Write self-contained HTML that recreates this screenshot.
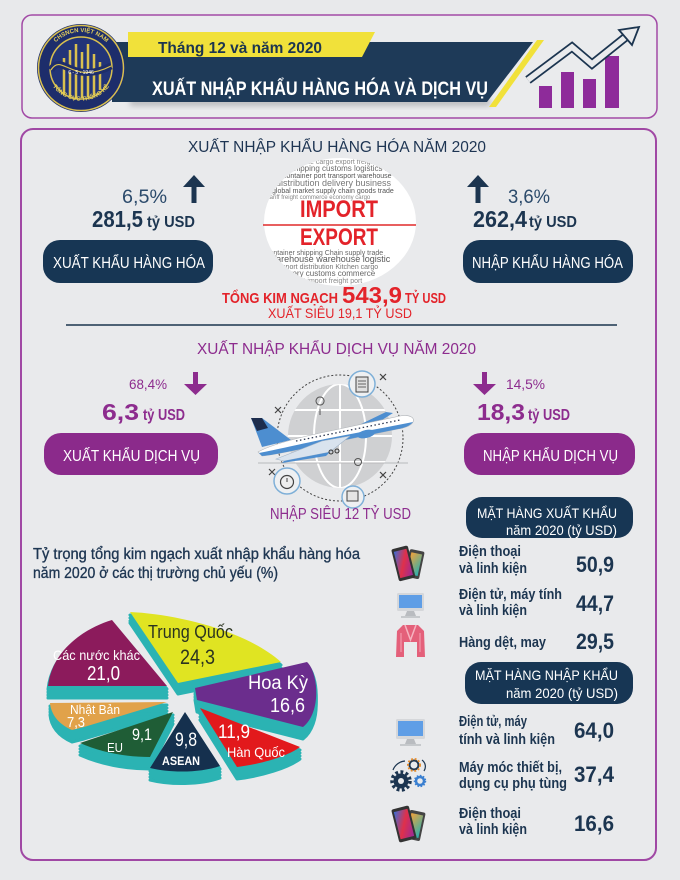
<!DOCTYPE html>
<html><head><meta charset="utf-8"><style>
html,body{margin:0;padding:0;background:#e8e9eb;}
svg{display:block;}
text{font-family:"Liberation Sans",sans-serif;}
</style></head><body>
<svg width="680" height="880" viewBox="0 0 680 880" xmlns="http://www.w3.org/2000/svg">
<defs>
 <clipPath id="circ"><ellipse cx="340" cy="222" rx="76" ry="64"/></clipPath>
 <clipPath id="globe"><circle cx="340" cy="436" r="52"/></clipPath>
 <filter id="blur" x="-20%" y="-50%" width="140%" height="200%"><feGaussianBlur stdDeviation="3"/></filter>
 <linearGradient id="scr1" x1="0" y1="0" x2="1" y2="1"><stop offset="0" stop-color="#3a6fd8"/><stop offset="0.5" stop-color="#e0304a"/><stop offset="1" stop-color="#9a2a9a"/></linearGradient>
 <linearGradient id="scr2" x1="0" y1="0" x2="1" y2="1"><stop offset="0" stop-color="#f3a23a"/><stop offset="1" stop-color="#2ab0b0"/></linearGradient>
 <path id="wtq" d="M178,683 L130,612 C175,614 245,630 281,662 Z"/>
 <path id="wck" d="M167,686 L112,620 C85,628 52,650 48,686 Z"/>
 <path id="whk" d="M195,688 L307,662 C318,672 322,712 303,727 L197,700 Z"/>
 <path id="wnb" d="M167,702 L50,703 C51,714 58,724 72,730 L84,727 Z"/>
 <path id="whq" d="M200,708 L300,747 C288,756 262,764 237,767 Z"/>
 <path id="weu" d="M173,712 L80,743 C100,752 125,757 150,757 Z"/>
 <path id="was" d="M185,712 L220,766 C200,773 170,773 150,768 Z"/>
</defs>
<rect width="680" height="880" fill="#e8e9eb"/>

<!-- HEADER -->
<rect x="22" y="15" width="635" height="103" rx="10" fill="#eaebed" stroke="#a24aa6" stroke-width="1.5"/>
<rect x="130" y="98" width="360" height="8" fill="#9a9ca0" opacity="0.6" filter="url(#blur)"/>
<polygon points="112,42 533,42 487,102 112,102" fill="#1e3a58"/>
<polygon points="537,40 544,40 496,107 489,107" fill="#f1e13a"/>
<polygon points="128,32 375,32 362,57 128,57" fill="#f1e13a"/>
<text x="158" y="53" font-size="16" font-weight="bold" fill="#1c3550" textLength="164" lengthAdjust="spacingAndGlyphs">Tháng 12 và năm 2020</text>
<text x="152" y="95" font-size="19" font-weight="bold" fill="#ffffff" textLength="336" lengthAdjust="spacingAndGlyphs">XUẤT NHẬP KHẨU HÀNG HÓA VÀ DỊCH VỤ</text>

<!-- logo -->
<g>
 <circle cx="81" cy="68" r="44" fill="#1d2d6b"/>
 <circle cx="81" cy="68" r="42.5" fill="none" stroke="#d9c04f" stroke-width="1.5"/>
 <circle cx="81" cy="68" r="31" fill="#223478" stroke="#d9c04f" stroke-width="1.5"/>
 <g stroke="#d9c04f" stroke-width="2.5">
  <line x1="64" y1="58" x2="64" y2="95"/>
  <line x1="70" y1="50" x2="70" y2="97"/>
  <line x1="76" y1="44" x2="76" y2="98"/>
  <line x1="82" y1="52" x2="82" y2="98"/>
  <line x1="88" y1="44" x2="88" y2="97"/>
  <line x1="94" y1="54" x2="94" y2="95"/>
  <line x1="100" y1="62" x2="100" y2="90"/>
 </g>
 <path d="M51,70 C62,52 72,86 111,66" stroke="#1d2d6b" stroke-width="7" fill="none"/>
 <path d="M51,70 C62,52 72,86 111,66" stroke="#d9c04f" stroke-width="1.2" fill="none"/>
 <text x="81" y="74" font-size="5" fill="#ffffff" text-anchor="middle">6 - 5 - 1946</text>
 <path id="lt" d="M45,68 A36,36 0 0 1 117,68" fill="none"/>
 <path id="lb" d="M47,74 A35,35 0 0 0 115,74" fill="none"/>
 <text font-size="6" fill="#e6cf5a" font-weight="bold"><textPath href="#lt" startOffset="50%" text-anchor="middle">CHSNCN VIỆT NAM</textPath></text>
 <text font-size="6" fill="#e6cf5a" font-weight="bold"><textPath href="#lb" startOffset="50%" text-anchor="middle">TỔNG CỤC THỐNG KÊ</textPath></text>
</g>

<!-- chart icon -->
<g fill="#8e2b9a">
 <rect x="539" y="86" width="13" height="22"/>
 <rect x="561" y="72" width="13" height="36"/>
 <rect x="583" y="79" width="13" height="29"/>
 <rect x="605" y="56" width="14" height="52"/>
</g>
<polyline points="528,80 572,47 592,64 627,36" fill="none" stroke="#1c3550" stroke-width="9" stroke-linejoin="miter"/>
<polyline points="528,80 572,47 592,64 627,36" fill="none" stroke="#eaebed" stroke-width="5.5" stroke-linejoin="miter"/>
<polygon points="639,27 632,45 619,30" fill="#eaebed" stroke="#1c3550" stroke-width="1.8"/>

<!-- MAIN BOX -->
<rect x="21" y="129" width="635" height="731" rx="12" fill="#e9eaec" stroke="#a048a4" stroke-width="2"/>

<!-- goods -->
<text x="188" y="152" font-size="16" fill="#1e3553" textLength="298" lengthAdjust="spacingAndGlyphs">XUẤT NHẬP KHẨU HÀNG HÓA NĂM 2020</text>
<text x="122" y="203" font-size="19" fill="#2b4a6b" textLength="45" lengthAdjust="spacingAndGlyphs">6,5%</text>
<g fill="#1c3550">
 <polygon points="183,187 205,187 194,175"/>
 <rect x="191.5" y="185" width="5" height="18"/>
 <polygon points="467,187 489,187 478,175"/>
 <rect x="475.5" y="185" width="5" height="18"/>
</g>
<text x="92" y="227" font-size="23" font-weight="bold" fill="#1c3550" textLength="51" lengthAdjust="spacingAndGlyphs">281,5</text>
<text x="147" y="227" font-size="16" font-weight="bold" fill="#1c3550" textLength="48" lengthAdjust="spacingAndGlyphs">tỷ USD</text>
<rect x="43" y="240" width="170" height="43" rx="17" fill="#173654"/>
<text x="53" y="268" font-size="16" fill="#ffffff" textLength="152" lengthAdjust="spacingAndGlyphs">XUẤT KHẨU HÀNG HÓA</text>

<text x="508" y="203" font-size="19" fill="#2b4a6b" textLength="42" lengthAdjust="spacingAndGlyphs">3,6%</text>
<text x="473" y="227" font-size="23" font-weight="bold" fill="#1c3550" textLength="54" lengthAdjust="spacingAndGlyphs">262,4</text>
<text x="529" y="227" font-size="16" font-weight="bold" fill="#1c3550" textLength="48" lengthAdjust="spacingAndGlyphs">tỷ USD</text>
<rect x="463" y="240" width="170" height="43" rx="17" fill="#173654"/>
<text x="472" y="268" font-size="16" fill="#ffffff" textLength="151" lengthAdjust="spacingAndGlyphs">NHẬP KHẨU HÀNG HÓA</text>

<!-- import export circle -->
<ellipse cx="340" cy="222" rx="76" ry="64" fill="#ffffff"/>
<g clip-path="url(#circ)" font-family="Liberation Sans, sans-serif">
 <text x="298" y="164" font-size="7" fill="#888">trade cargo export freight logistics</text>
 <text x="290" y="171" font-size="8" fill="#6a6a6a">shipping customs logistics import</text>
 <text x="283" y="178" font-size="7" fill="#555">container port transport warehouse</text>
 <text x="276" y="186" font-size="9" fill="#777">distribution delivery business</text>
 <text x="272" y="193" font-size="7" fill="#555">global market supply chain goods trade</text>
 <text x="268" y="199" font-size="6" fill="#888">tariff freight commerce economy cargo</text>
 <text x="266" y="255" font-size="7" fill="#666">container shipping Chain supply trade</text>
 <text x="268" y="262" font-size="9" fill="#5a5a5a">Warehouse warehouse logistic</text>
 <text x="270" y="269" font-size="7" fill="#777">transport distribution Kitchen cargo</text>
 <text x="276" y="276" font-size="8" fill="#666">delivery customs commerce</text>
 <text x="286" y="283" font-size="7" fill="#888">export import freight port</text>
</g>
<line x1="263" y1="225" x2="416" y2="225" stroke="#e02a2a" stroke-width="1.5"/>
<text x="300" y="217" font-size="24" font-weight="bold" fill="#e3232a" textLength="78" lengthAdjust="spacingAndGlyphs">IMPORT</text>
<text x="300" y="245" font-size="24" font-weight="bold" fill="#e3232a" textLength="78" lengthAdjust="spacingAndGlyphs">EXPORT</text>

<text x="222" y="303" font-size="15" font-weight="bold" fill="#e3232a" textLength="116" lengthAdjust="spacingAndGlyphs">TỔNG KIM NGẠCH</text>
<text x="342" y="303" font-size="23" font-weight="bold" fill="#e3232a" textLength="60" lengthAdjust="spacingAndGlyphs">543,9</text>
<text x="405" y="303" font-size="15" font-weight="bold" fill="#e3232a" textLength="41" lengthAdjust="spacingAndGlyphs">TỶ USD</text>
<text x="268" y="318" font-size="14" fill="#e3232a" textLength="144" lengthAdjust="spacingAndGlyphs">XUẤT SIÊU 19,1 TỶ USD</text>
<line x1="66" y1="325" x2="617" y2="325" stroke="#4e6275" stroke-width="2"/>

<!-- services -->
<text x="197" y="354" font-size="16" fill="#8d2c8e" textLength="279" lengthAdjust="spacingAndGlyphs">XUẤT NHẬP KHẨU DỊCH VỤ NĂM 2020</text>
<text x="129" y="389" font-size="14" fill="#8d2c8e" textLength="38" lengthAdjust="spacingAndGlyphs">68,4%</text>
<text x="506" y="389" font-size="14" fill="#8d2c8e" textLength="39" lengthAdjust="spacingAndGlyphs">14,5%</text>
<g fill="#8d2c8e">
 <rect x="193" y="372" width="5" height="14"/>
 <polygon points="184,384 207,384 195.5,395"/>
 <rect x="482" y="372" width="5" height="14"/>
 <polygon points="473,384 496,384 484.5,395"/>
</g>
<text x="102" y="420" font-size="23" font-weight="bold" fill="#8d2c8e" textLength="37" lengthAdjust="spacingAndGlyphs">6,3</text>
<text x="143" y="420" font-size="16" font-weight="bold" fill="#8d2c8e" textLength="42" lengthAdjust="spacingAndGlyphs">tỷ USD</text>
<text x="477" y="420" font-size="23" font-weight="bold" fill="#8d2c8e" textLength="48" lengthAdjust="spacingAndGlyphs">18,3</text>
<text x="528" y="420" font-size="16" font-weight="bold" fill="#8d2c8e" textLength="42" lengthAdjust="spacingAndGlyphs">tỷ USD</text>
<rect x="44" y="433" width="174" height="42" rx="17" fill="#8b2a8b"/>
<text x="63" y="461" font-size="16" fill="#ffffff" textLength="137" lengthAdjust="spacingAndGlyphs">XUẤT KHẨU DỊCH VỤ</text>
<rect x="464" y="433" width="171" height="42" rx="17" fill="#8b2a8b"/>
<text x="483" y="461" font-size="16" fill="#ffffff" textLength="135" lengthAdjust="spacingAndGlyphs">NHẬP KHẨU DỊCH VỤ</text>

<!-- globe + plane -->
<circle cx="340" cy="436" r="52" fill="#cfd0d2"/>
<g clip-path="url(#globe)" stroke="#ffffff" stroke-width="2" fill="none">
 <ellipse cx="340" cy="436" rx="26" ry="52"/>
 <line x1="340" y1="380" x2="340" y2="492"/>
 <line x1="285" y1="410" x2="395" y2="410"/>
 <line x1="285" y1="436" x2="395" y2="436"/>
 <line x1="285" y1="462" x2="395" y2="462"/>
</g>
<circle cx="340" cy="438" r="63" fill="none" stroke="#444" stroke-width="1" stroke-dasharray="2 2"/>
<line x1="258" y1="463" x2="408" y2="463" stroke="#b8b9bb" stroke-width="1"/>
<g stroke="#444" stroke-width="1.2">
 <path d="M380,374 l6,6 M386,374 l-6,6"/>
 <path d="M275,407 l6,6 M281,407 l-6,6"/>
 <path d="M269,469 l6,6 M275,469 l-6,6"/>
 <path d="M380,472 l6,6 M386,472 l-6,6"/>
</g>
<g fill="none" stroke="#555" stroke-width="1">
 <path d="M320,405 a4,4 0 1 1 0.1,0 Z M320,409 l0,6"/>
 <circle cx="358" cy="462" r="3.5"/>
</g>
<circle cx="362" cy="384" r="13" fill="#eef0f2" stroke="#7fb0d8" stroke-width="1.5"/>
<rect x="356" y="377" width="12" height="15" fill="#e0e0e0" stroke="#444" stroke-width="1"/>
<g stroke="#444" stroke-width="0.8"><line x1="358" y1="381" x2="366" y2="381"/><line x1="358" y1="384" x2="366" y2="384"/><line x1="358" y1="387" x2="366" y2="387"/></g>
<circle cx="287" cy="481" r="13" fill="#eef0f2" stroke="#7fb0d8" stroke-width="1.5"/>
<circle cx="287" cy="482" r="6.5" fill="#eee" stroke="#444" stroke-width="1.2"/>
<line x1="287" y1="482" x2="287" y2="478" stroke="#444"/>
<circle cx="353" cy="497" r="11" fill="#eef0f2" stroke="#7fb0d8" stroke-width="1.5"/>
<rect x="347" y="491" width="11" height="10" fill="#e5e5e5" stroke="#444" stroke-width="1"/>
<!-- plane -->
<polygon points="262,447 251,418 262,418 291,440" fill="#4d8ed0"/>
<polygon points="251,418 262,418 268,428 257,431" fill="#1d2d4d"/>
<polygon points="355,427 386,412 393,413 371,427" fill="#4d8ed0"/>
<path d="M258,452 C270,445 300,437 330,431 L400,416 C410,414 415,418 413,422 C411,426 404,428 398,429 L330,443 C300,449 275,455 262,456 Z" fill="#ffffff" stroke="#b0b4b8" stroke-width="0.6"/>
<path d="M262,456 C275,455 300,449 330,443 L398,429 C404,428 410,426 413,422 L408,423 L330,438 C300,444 275,450 259,453 Z" fill="#4d8ed0"/>
<line x1="296" y1="441" x2="400" y2="420" stroke="#2a3550" stroke-width="1.3" stroke-dasharray="1.5 2.5"/>
<polygon points="322,441 350,436 330,452 284,461 276,459" fill="#d9e3ee" stroke="#9fb3c8" stroke-width="0.6"/>
<polygon points="284,461 330,452 326,456 282,463" fill="#4d8ed0"/>
<ellipse cx="366" cy="434" rx="9" ry="4" fill="#4d8ed0" transform="rotate(-12 366 434)"/>
<circle cx="331" cy="452" r="2" fill="none" stroke="#333" stroke-width="1"/>
<circle cx="337" cy="451" r="2" fill="none" stroke="#333" stroke-width="1"/>
<text x="270" y="519" font-size="16" fill="#8d2c8e" textLength="141" lengthAdjust="spacingAndGlyphs">NHẬP SIÊU 12 TỶ USD</text>

<!-- pie title -->
<text x="33" y="559" font-size="15.5" fill="#1e3652" stroke="#1e3652" stroke-width="0.35" textLength="327" lengthAdjust="spacingAndGlyphs">Tỷ trọng tổng kim ngạch xuất nhập khẩu hàng hóa</text>
<text x="33" y="578" font-size="15.5" fill="#1e3652" stroke="#1e3652" stroke-width="0.35" textLength="245" lengthAdjust="spacingAndGlyphs">năm 2020 ở các thị trường chủ yếu (%)</text>

<!-- PIE -->
<g stroke-linejoin="round">
 <g fill="#2bb3b3" stroke="#2bb3b3" stroke-width="3"><use href="#wtq" y="3"/><use href="#wtq" y="6"/><use href="#wtq" y="9"/><use href="#wtq" y="11"/></g>
 <use href="#wtq" fill="#e0e422"/>
 <g fill="#2bb3b3" stroke="#2bb3b3" stroke-width="3"><use href="#wck" y="3"/><use href="#wck" y="6"/><use href="#wck" y="9"/><use href="#wck" y="12"/></g>
 <use href="#wck" fill="#8c1b5c"/>
 <g fill="#2bb3b3" stroke="#2bb3b3" stroke-width="3"><use href="#whk" y="3"/><use href="#whk" y="6"/><use href="#whk" y="9"/><use href="#whk" y="12"/></g>
 <use href="#whk" fill="#6b2d8d"/>
 <g fill="#2bb3b3" stroke="#2bb3b3" stroke-width="3"><use href="#wnb" y="3"/><use href="#wnb" y="6"/><use href="#wnb" y="9"/><use href="#wnb" y="12"/></g>
 <use href="#wnb" fill="#e1a24a"/>
 <g fill="#2bb3b3" stroke="#2bb3b3" stroke-width="3"><use href="#whq" y="3"/><use href="#whq" y="6"/><use href="#whq" y="9"/><use href="#whq" y="12"/></g>
 <use href="#whq" fill="#e2191c"/>
 <g fill="#2bb3b3" stroke="#2bb3b3" stroke-width="3"><use href="#weu" y="3"/><use href="#weu" y="6"/><use href="#weu" y="9"/><use href="#weu" y="12"/></g>
 <use href="#weu" fill="#1f5d36"/>
 <g fill="#2bb3b3" stroke="#2bb3b3" stroke-width="3"><use href="#was" y="3"/><use href="#was" y="6"/><use href="#was" y="9"/><use href="#was" y="12"/></g>
 <use href="#was" fill="#15304e"/>
</g>
<text x="148" y="638" font-size="18" fill="#2a3320" textLength="85" lengthAdjust="spacingAndGlyphs">Trung Quốc</text>
<text x="180" y="664" font-size="21" fill="#2a3320" textLength="35" lengthAdjust="spacingAndGlyphs">24,3</text>
<text x="53" y="660" font-size="14" fill="#ffffff" textLength="87" lengthAdjust="spacingAndGlyphs">Các nước khác</text>
<text x="87" y="680" font-size="20" fill="#ffffff" textLength="33" lengthAdjust="spacingAndGlyphs">21,0</text>
<text x="248" y="689" font-size="19" fill="#ffffff" textLength="60" lengthAdjust="spacingAndGlyphs">Hoa Kỳ</text>
<text x="270" y="712" font-size="20" fill="#ffffff" textLength="35" lengthAdjust="spacingAndGlyphs">16,6</text>
<text x="70" y="714" font-size="13" fill="#ffffff" textLength="50" lengthAdjust="spacingAndGlyphs">Nhật Bản</text>
<text x="67" y="727" font-size="15" fill="#ffffff" textLength="18" lengthAdjust="spacingAndGlyphs">7,3</text>
<text x="107" y="752" font-size="13" fill="#ffffff" textLength="16" lengthAdjust="spacingAndGlyphs">EU</text>
<text x="132" y="740" font-size="17" fill="#ffffff" textLength="20" lengthAdjust="spacingAndGlyphs">9,1</text>
<text x="175" y="746" font-size="19" fill="#ffffff" textLength="22" lengthAdjust="spacingAndGlyphs">9,8</text>
<text x="162" y="765" font-size="12" font-weight="bold" fill="#ffffff" textLength="38" lengthAdjust="spacingAndGlyphs">ASEAN</text>
<text x="218" y="738" font-size="19" fill="#ffffff" textLength="32" lengthAdjust="spacingAndGlyphs">11,9</text>
<text x="227" y="757" font-size="14" fill="#ffffff" textLength="58" lengthAdjust="spacingAndGlyphs">Hàn Quốc</text>

<!-- EXPORT ITEMS -->
<rect x="466" y="497" width="167" height="41" rx="16" fill="#173654"/>
<text x="477" y="518" font-size="14" fill="#ffffff" textLength="140" lengthAdjust="spacingAndGlyphs">MẶT HÀNG XUẤT KHẨU</text>
<text x="506" y="535" font-size="14" fill="#ffffff" textLength="111" lengthAdjust="spacingAndGlyphs">năm 2020 (tỷ USD)</text>

<g font-size="15" font-weight="bold" fill="#1c3550">
 <text x="459" y="556" textLength="62" lengthAdjust="spacingAndGlyphs">Điện thoại</text>
 <text x="459" y="573" textLength="68" lengthAdjust="spacingAndGlyphs">và linh kiện</text>
 <text x="459" y="599" textLength="103" lengthAdjust="spacingAndGlyphs">Điện tử, máy tính</text>
 <text x="459" y="615" textLength="68" lengthAdjust="spacingAndGlyphs">và linh kiện</text>
 <text x="459" y="647" textLength="87" lengthAdjust="spacingAndGlyphs">Hàng dệt, may</text>
</g>
<g font-size="22" font-weight="bold" fill="#1c3550">
 <text x="576" y="572" textLength="38" lengthAdjust="spacingAndGlyphs">50,9</text>
 <text x="576" y="611" textLength="38" lengthAdjust="spacingAndGlyphs">44,7</text>
 <text x="576" y="649" textLength="38" lengthAdjust="spacingAndGlyphs">29,5</text>
</g>

<!-- IMPORT ITEMS -->
<rect x="465" y="662" width="168" height="42" rx="16" fill="#173654"/>
<text x="475" y="680" font-size="14" fill="#ffffff" textLength="143" lengthAdjust="spacingAndGlyphs">MẶT HÀNG NHẬP KHẨU</text>
<text x="506" y="698" font-size="14" fill="#ffffff" textLength="112" lengthAdjust="spacingAndGlyphs">năm 2020 (tỷ USD)</text>
<g font-size="15" font-weight="bold" fill="#1c3550">
 <text x="459" y="726" textLength="68" lengthAdjust="spacingAndGlyphs">Điện tử, máy</text>
 <text x="459" y="744" textLength="96" lengthAdjust="spacingAndGlyphs">tính và linh kiện</text>
 <text x="459" y="772" textLength="103" lengthAdjust="spacingAndGlyphs">Máy móc thiết bị,</text>
 <text x="459" y="788" textLength="108" lengthAdjust="spacingAndGlyphs">dụng cụ phụ tùng</text>
 <text x="459" y="818" textLength="62" lengthAdjust="spacingAndGlyphs">Điện thoại</text>
 <text x="459" y="834" textLength="68" lengthAdjust="spacingAndGlyphs">và linh kiện</text>
</g>
<g font-size="22" font-weight="bold" fill="#1c3550">
 <text x="574" y="738" textLength="40" lengthAdjust="spacingAndGlyphs">64,0</text>
 <text x="574" y="782" textLength="40" lengthAdjust="spacingAndGlyphs">37,4</text>
 <text x="574" y="831" textLength="40" lengthAdjust="spacingAndGlyphs">16,6</text>
</g>

<!-- ICONS -->
<g>
 <rect x="407" y="550" width="15" height="28" rx="2" fill="#444" transform="rotate(12 414 564)"/>
 <rect x="409" y="553" width="11" height="22" fill="url(#scr2)" transform="rotate(12 414 564)"/>
 <rect x="395" y="547" width="17" height="33" rx="2" fill="#333" transform="rotate(-14 403 564)"/>
 <rect x="397" y="550" width="13" height="27" fill="url(#scr1)" transform="rotate(-14 403 564)"/>
</g>
<rect x="397" y="593" width="27" height="18" rx="1.5" fill="#d5d7da"/>
<rect x="399" y="595" width="23" height="13" fill="#5f9ee6"/>
<polygon points="407,611 414,611 416,616 405,616" fill="#b9bcc0"/>
<rect x="401" y="616" width="19" height="2" fill="#c6c9cc"/>
<path d="M403,625 L418,625 L424,631 L425,657 L417,657 L417,642 L404,642 L404,657 L396,657 L397,631 Z" fill="#e4607a"/>
<path d="M405,625 L410.5,640 L416,625" fill="none" stroke="#f6b3c0" stroke-width="1.5"/>
<path d="M401,633 L401,652 M420,633 L420,652" stroke="#f39aac" stroke-width="1.2"/>
<rect x="396" y="719" width="29" height="20" rx="1.5" fill="#d5d7da"/>
<rect x="398" y="721" width="25" height="15" fill="#5f9ee6"/>
<polygon points="407,739 414,739 416,744 405,744" fill="#b9bcc0"/>
<rect x="400" y="744" width="21" height="2" fill="#c6c9cc"/>
<circle cx="401" cy="781" r="7.5" fill="#1c3550"/>
<circle cx="401" cy="781" r="9" fill="none" stroke="#1c3550" stroke-width="3.5" stroke-dasharray="2.8 2.4"/>
<circle cx="401" cy="781" r="3" fill="#e9eaec"/>
<circle cx="414" cy="765" r="4.5" fill="none" stroke="#1c3550" stroke-width="2"/>
<circle cx="414" cy="765" r="6" fill="none" stroke="#e58b2a" stroke-width="2" stroke-dasharray="1.8 1.8"/>
<circle cx="420" cy="781" r="4" fill="none" stroke="#3a7fd0" stroke-width="2.5"/>
<circle cx="420" cy="781" r="5.5" fill="none" stroke="#3a7fd0" stroke-width="1.5" stroke-dasharray="1.6 1.6"/>
<path d="M393,770 A14,14 0 0 1 405,761" fill="none" stroke="#1c3550" stroke-width="1.2"/>
<path d="M422,760 A8,8 0 0 1 424,771" fill="none" stroke="#1c3550" stroke-width="1.2"/>
<g>
 <rect x="407" y="811" width="16" height="29" rx="2" fill="#444" transform="rotate(12 415 825)"/>
 <rect x="409" y="814" width="12" height="23" fill="url(#scr2)" transform="rotate(12 415 825)"/>
 <rect x="395" y="807" width="18" height="34" rx="2" fill="#333" transform="rotate(-14 404 824)"/>
 <rect x="397" y="810" width="14" height="28" fill="url(#scr1)" transform="rotate(-14 404 824)"/>
</g>
</svg>
</body></html>
